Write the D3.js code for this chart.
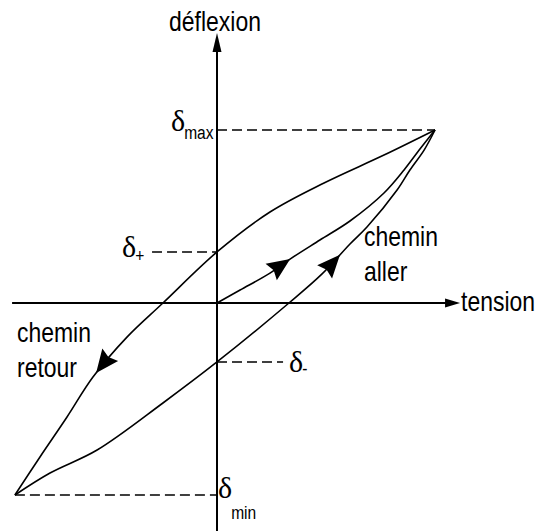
<!DOCTYPE html>
<html>
  <head>
    <meta charset="utf-8">
    <title>Hystérésis</title>
    <script src="https://cdnjs.cloudflare.com/ajax/libs/d3/7.8.5/d3.min.js"></script>
    <style>
      body { margin: 0; background: #fff; }
      .sans { font-family: "Liberation Sans", Arial, sans-serif; }
      .serif { font-family: "Liberation Serif", "Times New Roman", "DejaVu Serif", serif; }
    </style>
  </head>
  <body>

    <script>
      // tension (x) / déflexion (y), arbitrary units: apex = (100, 100)
      var cheminInitial = [[0,0],[10.6,7.5],[24.3,17.3],[33.5,25.4],[47.2,36.4],[61,47.4],
                           [76.6,63.6],[85.8,76.9],[93.1,89],[100,100]];
      var cheminRetour  = [[100,100],[76.6,85.5],[49.1,69.4],[24.3,52.6],[0,29.5],[-24.8,0],
                           [-41.3,-19.7],[-56.9,-42.8],[-68.8,-65.9],[-81.2,-89],[-92.7,-111]];
      var cheminAller   = [[-92.7,-111],[-76.6,-98.3],[-55,-85],[-24.8,-57.8],[0,-34.1],[33,0],
                           [48.2,16.8],[61,34.1],[68.8,43.9],[82.6,65.3],[88.5,76.9],[95,88.4],[100,100]];

      // reference levels : subscript, y value, dashed from x0 to x1
      var niveaux = [
        {sub: "max", y: 100,    x0: 0,     x1: 100},
        {sub: "+",   y: 29.5,   x0: -29.8, x1: 0},
        {sub: "-",   y: -34.1,  x0: 0,     x1: 30.3},
        {sub: "min", y: -111,   x0: -92.7, x1: 0}
      ];

      // arrow tips (nearest point on the curve is used)
      var fleches = [
        {curve: 0, at: [33.5, 25.4]},
        {curve: 2, at: [56.4, 27.7]},
        {curve: 1, at: [-55.5, -40.5]}
      ];

      var xAxisExtent = [-94, 111.5];
      var yAxisExtent = [-132, 156];

      var width = 536, height = 531;
      var narrow = 0.82;

      var svg = d3.select("body").append("svg")
        .attr("width", width)
        .attr("height", height);

      var x = d3.scaleLinear().domain([0, 100]).range([217, 435]);
      var y = d3.scaleLinear().domain([0, 100]).range([303, 130]);

      // condensed sans text (Arial metrics squeezed horizontally)
      function narrowText(px, py, str, size, anchor){
        return svg.append("text").attr("class", "sans")
          .attr("transform", "translate(" + px + "," + py + ") scale(" + narrow + ",1)")
          .attr("text-anchor", anchor || "start")
          .style("font-size", size + "px")
          .text(str);
      }

      // axes
      svg.append("line")
        .attr("x1", x(xAxisExtent[0])).attr("x2", x(xAxisExtent[1]) - 12)
        .attr("y1", y(0)).attr("y2", y(0))
        .attr("stroke", "#000").attr("stroke-width", 2);
      svg.append("path")
        .attr("d", "M0,0 L-15,-4.5 L-15,4.5 Z")
        .attr("transform", "translate(" + x(xAxisExtent[1]) + "," + y(0) + ")");

      svg.append("line")
        .attr("x1", x(0)).attr("x2", x(0))
        .attr("y1", y(yAxisExtent[0])).attr("y2", y(yAxisExtent[1]) + 15)
        .attr("stroke", "#000").attr("stroke-width", 2);
      svg.append("path")
        .attr("d", "M0,0 L-4.5,19 L4.5,19 Z")
        .attr("transform", "translate(" + x(0) + "," + y(yAxisExtent[1]) + ")");

      narrowText(x(0) - 2, 31, "déflexion", 28, "middle");
      narrowText(x(xAxisExtent[1]) + 1, y(0) + 8, "tension", 28);

      // dashed levels
      svg.selectAll(".niveau").data(niveaux).enter().append("line")
        .attr("class", "niveau")
        .attr("x1", function (d){ return x(d.x0); })
        .attr("x2", function (d){ return x(d.x1); })
        .attr("y1", function (d){ return y(d.y); })
        .attr("y2", function (d){ return y(d.y); })
        .attr("stroke", "#000").attr("stroke-width", 1.6)
        .attr("stroke-dasharray", "10,5");

      // delta labels : left edge of delta, baseline offset, subscript offset
      var labelPos = {
        "max": {left: 171, dy: 1,  sdy: 8,  size: 19},
        "+":   {left: 122, dy: 5,  sdy: 5,  size: 19},
        "-":   {left: 289, dy: 10, sdy: 3,  size: 19},
        "min": {left: 218, dy: 3,  sdy: 21, size: 19}
      };
      niveaux.forEach(function (d){
        var p = labelPos[d.sub];
        var by = y(d.y) + p.dy;
        var delta = svg.append("text").attr("class", "serif")
          .attr("x", p.left).attr("y", by)
          .style("font-size", "30px")
          .text("δ");
        var w = delta.node().getComputedTextLength();
        narrowText(p.left + w - 1, by + p.sdy, d.sub, p.size);
      });

      // curves
      var line = d3.line()
        .x(function (d){ return x(d[0]); })
        .y(function (d){ return y(d[1]); })
        .curve(d3.curveCatmullRom.alpha(0.5));

      var curves = [cheminInitial, cheminRetour, cheminAller].map(function (c){
        return svg.append("path")
          .attr("d", line(c))
          .attr("fill", "none")
          .attr("stroke", "#000")
          .attr("stroke-width", 1.6);
      });

      // arrowheads along the curves
      fleches.forEach(function (f){
        var node = curves[f.curve].node();
        var len = node.getTotalLength();
        var tx = x(f.at[0]), ty = y(f.at[1]);
        var best = 0, bestD = Infinity;
        for (var l = 0; l <= len; l += 0.5) {
          var p = node.getPointAtLength(l);
          var dd = (p.x - tx) * (p.x - tx) + (p.y - ty) * (p.y - ty);
          if (dd < bestD) { bestD = dd; best = l; }
        }
        var a = node.getPointAtLength(Math.max(0, best - 6));
        var b = node.getPointAtLength(Math.min(len, best + 2));
        var ang = Math.atan2(b.y - a.y, b.x - a.x) * 180 / Math.PI;
        var tip = node.getPointAtLength(best);
        svg.append("path")
          .attr("d", "M0,0 L-23,-10 L-20,0 L-23,10 Z")
          .attr("fill", "#000")
          .attr("transform", "translate(" + tip.x + "," + tip.y + ") rotate(" + ang + ")");
      });

      // curve labels
      narrowText(364, 246, "chemin", 28);
      narrowText(364, 281, "aller", 28);
      narrowText(17, 342, "chemin", 28);
      narrowText(17, 377, "retour", 28);

    </script>

  </body>
</html>
